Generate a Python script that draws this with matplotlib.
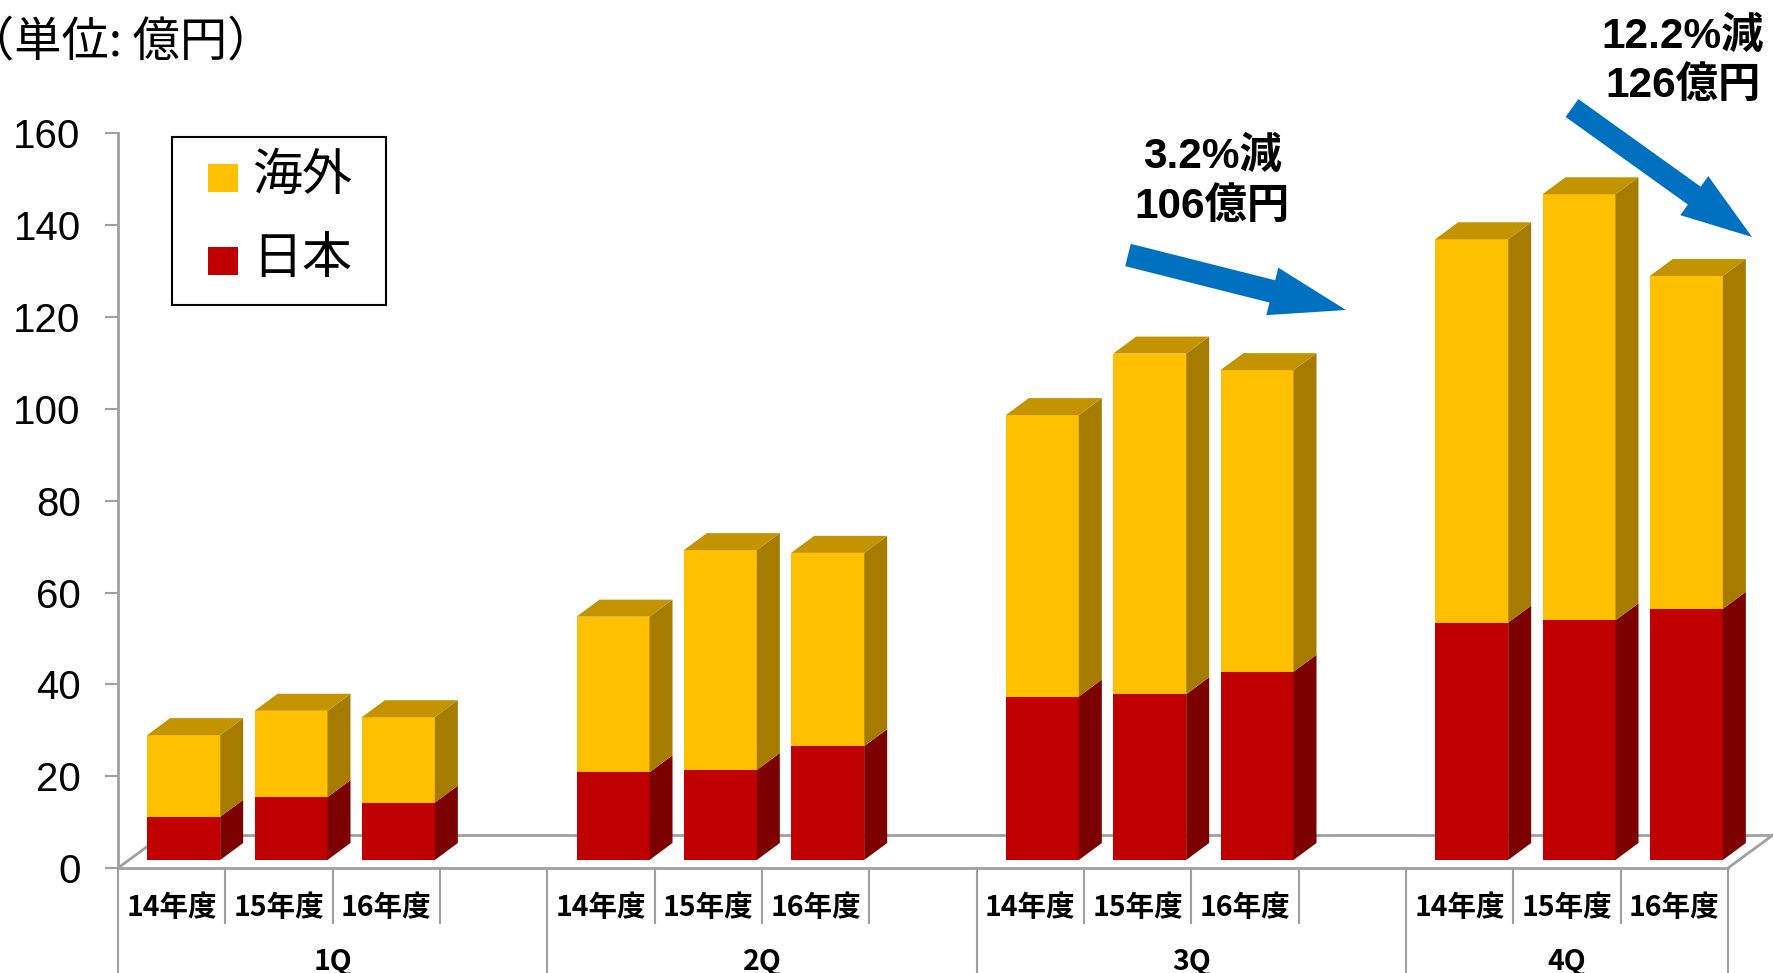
import numpy as np
import matplotlib
matplotlib.use("Agg")
import matplotlib.pyplot as plt
from matplotlib.patches import Rectangle, FancyArrow

plt.rcParams["font.family"] = ["Liberation Sans", "Noto Sans CJK JP"]

# ── DATA (億円) ───────────────────────────────────────────────
quarters = ["1Q", "2Q", "3Q", "4Q"]
years = ["14年度", "15年度", "16年度"]
series_names = ["海外", "日本"]
japan = [9.4, 13.7, 12.5, 19.1, 19.6, 24.8, 35.6, 36.1, 41.0, 51.7, 52.2, 54.7]
overseas = [17.8, 18.8, 18.6, 33.9, 47.9, 42.1, 61.3, 74.2, 65.7, 83.5, 92.8, 72.5]
y_ticks = [0, 20, 40, 60, 80, 100, 120, 140, 160]
unit_label = "（単位: 億円）"
note_3q = ["3.2%減", "106億円"]
note_4q = ["12.2%減", "126億円"]

# colours
YEL, YEL_SIDE, YEL_TOP = "#FFC000", "#A67C00", "#C49300"
RED, RED_SIDE = "#C00000", "#7C0000"
GRAY = "#A0A0A0"
BLUE = "#0070C0"

# ── LAYOUT (pixels) ───────────────────────────────────────────
W, H = 1773, 973
AX_L, AX_R, AX_B, AX_T = 118, 1728, 868, 133.4
n_slots = 15
SLOT = (AX_R - AX_L) / n_slots       # px per category slot
UNIT = (AX_B - AX_T) / 160            # px per 億円
FRONT = (12, 8)                       # bar front face offset
DEPTH = (23, 17)                      # bar depth
FLOOR = (45, 33)                      # floor depth
BAR_W = 73
ax_h = AX_B - AX_T

fig = plt.figure(figsize=(W / 100, H / 100), dpi=100)
ax = fig.add_axes([AX_L / W, 1 - AX_B / H, (AX_R - AX_L) / W, ax_h / H])
ax.set_xlim(-0.5, n_slots - 0.5)
ax.set_ylim(0, 160)

# floor (drawn first so bars hide the back edge)
fdx, fdy = FLOOR[0] / SLOT, FLOOR[1] / UNIT
x0, x1 = -0.5, n_slots - 0.5
ax.plot([x0 + fdx, x1 + fdx], [fdy, fdy], color=GRAY, lw=2, clip_on=False, zorder=1)
ax.plot([x0, x0 + fdx], [0, fdy], color=GRAY, lw=2, clip_on=False, zorder=1)
ax.plot([x1, x1 + fdx], [0, fdy], color=GRAY, lw=2, clip_on=False, zorder=1)

# ── BARS ──────────────────────────────────────────────────────
pos = np.array([q * 4 + j for q in range(len(quarters)) for j in range(len(years))])
jp = np.array(japan)
ovs = np.array(overseas)
base = FRONT[1] / UNIT
xc = pos + FRONT[0] / SLOT
bw = BAR_W / SLOT
ddx, ddy = DEPTH[0] / SLOT, DEPTH[1] / UNIT

ax.bar(xc, jp, bw, bottom=base, color=RED, lw=0, zorder=3)
ax.bar(xc, ovs, bw, bottom=base + jp, color=YEL, lw=0, zorder=3)
for x, j, o in zip(xc, jp, ovs):
    xl, xr = x - bw / 2, x + bw / 2
    b0, b1, b2 = base, base + j, base + j + o
    ax.fill([xr, xr + ddx, xr + ddx, xr], [b0, b0 + ddy, b1 + ddy, b1],
            color=RED_SIDE, lw=0, clip_on=False, zorder=3)
    ax.fill([xr, xr + ddx, xr + ddx, xr], [b1, b1 + ddy, b2 + ddy, b2],
            color=YEL_SIDE, lw=0, clip_on=False, zorder=3)
    ax.fill([xl, xl + ddx, xr + ddx, xr], [b2, b2 + ddy, b2 + ddy, b2],
            color=YEL_TOP, lw=0, clip_on=False, zorder=3)

# ── AXES STYLE ────────────────────────────────────────────────
for s in ["top", "right"]:
    ax.spines[s].set_visible(False)
for s in ["left", "bottom"]:
    ax.spines[s].set_color(GRAY)
    ax.spines[s].set_linewidth(2)
ax.set_xticks([])
ax.set_yticks(y_ticks)
ax.tick_params(axis="y", length=9.4, width=1.5, color=GRAY, pad=17.5,
               labelsize=29, labelcolor="black")
ax.patch.set_alpha(0)

# category labels and separators
tr = ax.get_xaxis_transform()
for p, lbl in zip(pos, years * len(quarters)):
    ax.text(p, -40 / ax_h, lbl, transform=tr, ha="center", va="center",
            fontsize=20.5, fontweight="bold", family=["Noto Sans CJK JP"])
for q, lbl in enumerate(quarters):
    gs, ge = q * 4 - 0.5, min(q * 4 + 3.5, n_slots - 0.5)
    ax.text((gs + ge) / 2, -94 / ax_h, lbl, transform=tr, ha="center", va="center",
            fontsize=20.5, fontweight="bold", family=["Noto Sans CJK JP"])
for k in range(n_slots + 1):
    long_line = (k % 4 == 0) or (k == n_slots)
    y_end = -(H - AX_B + 5) / ax_h if long_line else -55 / ax_h
    ax.plot([k - 0.5, k - 0.5], [0, y_end], transform=tr, color=GRAY, lw=1.5,
            clip_on=False)

# ── OVERLAY: unit, legend, arrows, notes ──────────────────────
ov = fig.add_axes([0, 0, 1, 1])
ov.set_xlim(0, W)
ov.set_ylim(H, 0)
ov.axis("off")
ov.patch.set_alpha(0)

ov.text(-33, 42, unit_label, fontsize=34, ha="left", va="center",
        family=["Noto Sans CJK JP"])

ov.add_patch(Rectangle((172, 137), 214, 168, fill=False, ec="black", lw=1.5))
for (yy, col, name) in [(164, YEL, series_names[0]), (247, RED, series_names[1])]:
    ov.add_patch(Rectangle((208, yy), 30, 28, color=col, lw=0))
    ov.text(252, yy + 12, name, fontsize=36, ha="left", va="center",
            family=["Noto Sans CJK JP"])

ov.add_patch(FancyArrow(1128, 255, 218, 55, width=23, head_width=49, head_length=76,
                        length_includes_head=True, color=BLUE, lw=0))
ov.add_patch(FancyArrow(1572, 108, 180, 129, width=22, head_width=48, head_length=71,
                        length_includes_head=True, color=BLUE, lw=0))

for (cx, ys, lines) in [(1212, (157, 207), note_3q), (1683, (37, 86), note_4q)]:
    for yy, line in zip(ys, lines):
        ov.text(cx, yy, line, fontsize=30.5, fontweight="bold", ha="center", va="center",
                family=["Liberation Sans", "Noto Sans CJK JP"])

fig.savefig("out.png", dpi=100, facecolor="white")
